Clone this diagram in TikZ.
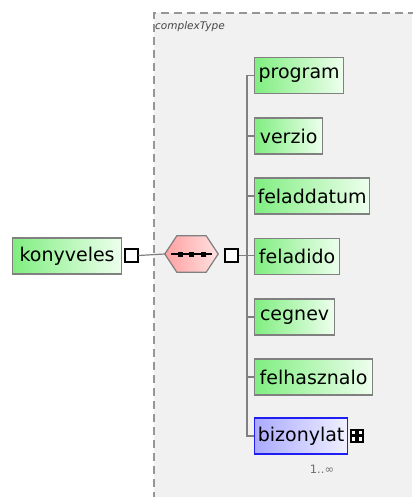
\documentclass[tikz,border=0pt]{standalone}
\usepackage{fontspec}
\setmainfont{DejaVu Sans}
\definecolor{elemL}{RGB}{128,238,128}
\definecolor{elemR}{RGB}{238,255,238}
\definecolor{bluL}{RGB}{170,170,255}
\definecolor{bluR}{RGB}{240,240,255}
\definecolor{hexL}{RGB}{255,160,160}
\definecolor{hexR}{RGB}{255,225,225}
\definecolor{bordergray}{RGB}{128,128,128}
\definecolor{bgbox}{RGB}{241,241,241}
\begin{document}
\begin{tikzpicture}[x=1pt,y=-1pt,
  elem/.style={draw=bordergray, line width=1.2pt, left color=elemL, right color=elemR,
    minimum height=36pt, inner sep=0pt, anchor=west, text=black,
    font=\fontsize{19}{21}\selectfont},
  belem/.style={elem, draw={rgb,255:red,30;green,30;blue,240}, left color=bluL, right color=bluR},
  sq/.style={draw=black, fill=white, line width=1.5pt, minimum width=13pt, minimum height=13pt, inner sep=0pt},
  conn/.style={draw=bordergray, line width=1.2pt},
  ]
\useasboundingbox (0,0) rectangle (412,497);
\fill[white] (0,0) rectangle (412,497);
% complexType box
\fill[bgbox] (154,13) rectangle (412,497);
\draw[draw={rgb,255:red,150;green,150;blue,150}, line width=1.5pt, dash pattern=on 8pt off 5pt] (416,13) -- (154,13) -- (154,500);
\node[anchor=west, inner sep=0pt, font=\fontsize{10.5}{12}\selectfont\itshape, text={rgb,255:red,70;green,70;blue,70}] (ctlabel) at (155,27) {complexType};

% root element
\node[elem, minimum width=109pt] (konyveles) at (12,256) {konyveles};
\node[sq, anchor=west] (sq1) at (124,255.5) {};
% sequence compositor
\node[minimum width=53pt, minimum height=36pt, inner sep=0pt] (hex) at (191.5,254) {};
\filldraw[draw=bordergray, line width=1.2pt, left color=hexL, right color=hexR]
  (hex.west) -- ([xshift=12pt]hex.north west) -- ([xshift=-12pt]hex.north east) -- (hex.east)
  -- ([xshift=-12pt]hex.south east) -- ([xshift=12pt]hex.south west) -- cycle;
\draw[black, line width=1.2pt] ([xshift=6pt]hex.west) -- ([xshift=-6pt]hex.east);
\foreach \dx in {-11.5,0,11.5} \fill[black] ([xshift=\dx pt]hex.center) ++(-2.5,-2.5) rectangle ++(5,5);
\node[sq, anchor=west] (sq2) at (224,255.5) {};
\draw[conn] (sq1.east) -- (hex.west);

% children
\node[elem, minimum width=89pt] (program) at (254,75.5) {program};
\node[elem, minimum width=68pt] (verzio) at (254,136) {verzio};
\node[elem, minimum width=115pt] (feladdatum) at (254,196) {feladdatum};
\node[elem, minimum width=85pt] (feladido) at (254,256.5) {feladido};
\node[elem, minimum width=80pt] (cegnev) at (254,317) {cegnev};
\node[elem, minimum width=118pt] (felhasznalo) at (254,377) {felhasznalo};
\node[belem, minimum width=93pt] (bizonylat) at (254,436) {bizonylat};

\draw[conn] (program.west) -- ++(-7,0) |- (bizonylat.west);
\foreach \n in {verzio,feladdatum,cegnev,felhasznalo} \draw[conn] (\n.west) -- ++(-7,0);
\draw[conn] (sq2.east) -- (feladido.west |- sq2.east);

% expand symbol
\node[minimum width=14pt, minimum height=14pt, inner sep=0pt, fill=black] (bizsym) at (357,435.5) {};
\foreach \sx/\sy in {-1/-1,1/-1,-1/1,1/1}
  \fill[white] ([xshift=\sx*3.3pt, yshift=\sy*3.3pt]bizsym.center) ++(-1.7,-1.7) rectangle ++(3.4,3.4);
\node[font=\fontsize{11.5}{13}\selectfont, text={rgb,255:red,110;green,110;blue,110}, inner sep=0pt] (occ) at (322,469) {1..∞};
\end{tikzpicture}
\end{document}
